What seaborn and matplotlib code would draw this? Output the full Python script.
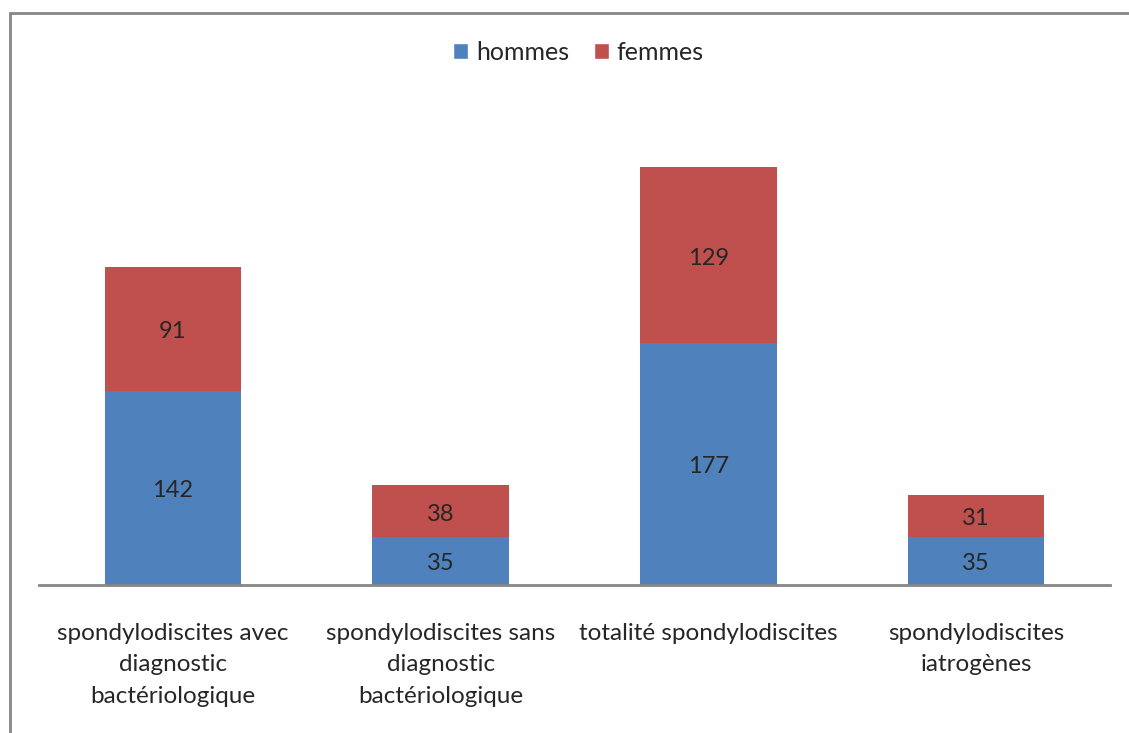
import seaborn as sns
from matplotlib import pyplot as plt
from matplotlib.patches import Patch
from matplotlib.lines import Line2D
import pandas as pd
import numpy as np

categories = [
    "spondylodiscites avec\ndiagnostic\nbactériologique",
    "spondylodiscites sans\ndiagnostic\nbactériologique",
    "totalité spondylodiscites",
    "spondylodiscites\niatrogènes",
]
hommes = [142, 35, 177, 35]
femmes = [91, 38, 129, 31]

blue = "#4F81BD"
red = "#C0504D"
text_color = "#262626"


def main():
    sns.set_theme(style="white")
    plt.rcParams['font.family'] = ['Lato', 'DejaVu Sans']

    df = pd.DataFrame({"categorie": categories, "hommes": hommes, "femmes": femmes})
    df["total"] = df["hommes"] + df["femmes"]

    fig = plt.figure(figsize=(11.29, 7.33), dpi=100)
    ax = fig.add_axes([0.0345, 0.2019, 0.9487, 0.652])

    # femmes stacked on top: draw the totals first, then hommes over them
    sns.barplot(data=df, x="categorie", y="total", color=red, width=0.51,
                saturation=1, ax=ax, edgecolor="none")
    sns.barplot(data=df, x="categorie", y="hommes", color=blue, width=0.51,
                saturation=1, ax=ax, edgecolor="none")

    top_bars = ax.containers[0]
    for rect, h, f in zip(top_bars, hommes, femmes):
        cx = rect.get_x() + rect.get_width() / 2
        for y, v in [(h / 2, h), (h + f / 2, f)]:
            ax.annotate(str(v), (cx, y), xytext=(0, -2), textcoords="offset points",
                        ha="center", va="center", fontsize=17, color=text_color)

    ax.set_xlim(-0.5, 3.5)
    ax.set_ylim(0, 350)
    ax.set_xlabel("")
    ax.set_ylabel("")
    ax.set_yticks([])
    ax.tick_params(axis="x", length=0, pad=27, labelsize=17.5, labelcolor=text_color)
    for label in ax.get_xticklabels():
        label.set_linespacing(1.63)
        label.set_verticalalignment("top")
    for side in ["top", "right", "left"]:
        ax.spines[side].set_visible(False)
    ax.spines["bottom"].set_color("#868686")
    ax.spines["bottom"].set_linewidth(2)

    handles = [Patch(facecolor=blue, label="hommes"), Patch(facecolor=red, label="femmes")]
    fig.legend(handles=handles, loc="center", bbox_to_anchor=(0.5124, 0.929), ncol=2,
               frameon=False, fontsize=18, handlelength=0.6, handleheight=0.6,
               handletextpad=0.3, columnspacing=1.0, labelcolor=text_color)

    # chart frame (cropped at right and bottom)
    fig.add_artist(Line2D([10 / 1129, 10 / 1129], [0, 1 - 13 / 733], color="#868686",
                          linewidth=2, transform=fig.transFigure))
    fig.add_artist(Line2D([10 / 1129, 1], [1 - 13 / 733, 1 - 13 / 733], color="#868686",
                          linewidth=2, transform=fig.transFigure))

    fig.savefig("out.png", dpi=100)


if __name__ == "__main__":
    main()
